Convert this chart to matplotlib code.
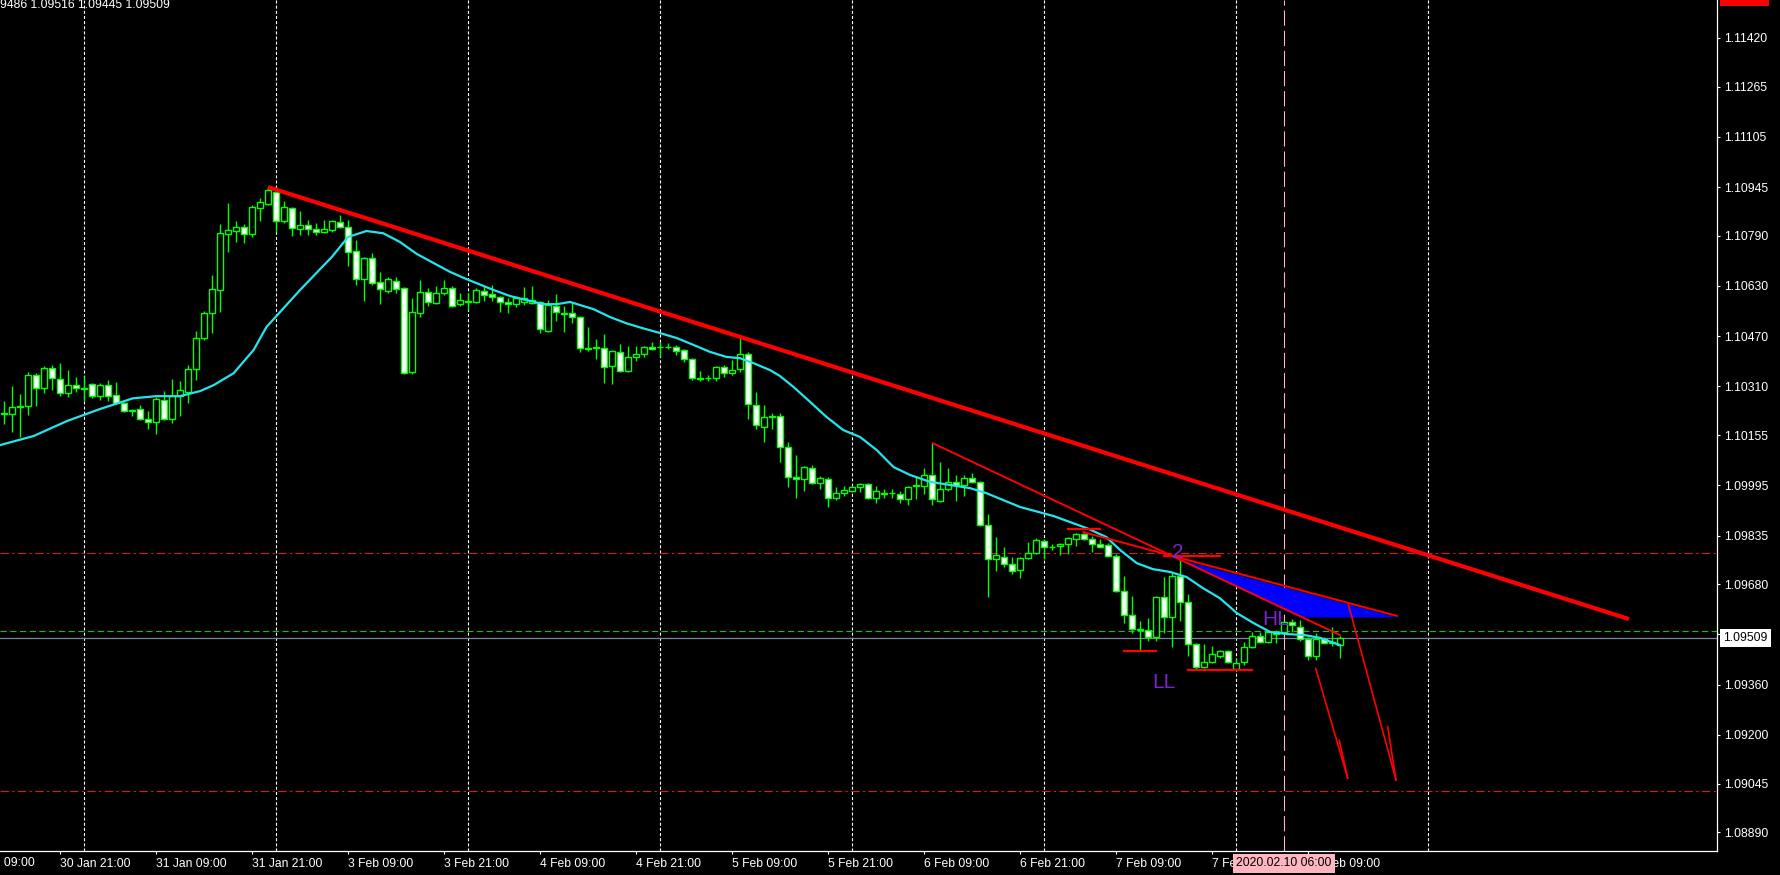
import matplotlib
matplotlib.use("Agg")
import matplotlib.pyplot as plt
from matplotlib.patches import Rectangle, Polygon

plt.rcParams['lines.scale_dashes'] = False

# H1 bars, bar 0 = 30 Jan 21:00, weekend skipped
FIRST_BAR = -7

OPEN = [1.10222, 1.10222, 1.10245, 1.10248, 1.10346, 1.10304, 1.10368,
        1.10333, 1.10288, 1.10314, 1.10304, 1.10317, 1.10279, 1.10314, 1.10282, 1.10257, 1.10235,
        1.10238, 1.10206, 1.10197, 1.10267, 1.10206, 1.10279, 1.10292, 1.10365, 1.10464, 1.10543,
        1.10617, 1.10795, 1.10805, 1.10818, 1.10795, 1.10878, 1.10891, 1.10930, 1.10837, 1.10878,
        1.10811, 1.10824, 1.10811, 1.10802, 1.10808, 1.10834, 1.10818, 1.10742, 1.10652, 1.10719,
        1.10643, 1.10614, 1.10646, 1.10623, 1.10356, 1.10543, 1.10611, 1.10575, 1.10607, 1.10623,
        1.10572, 1.10579, 1.10579, 1.10614, 1.10604, 1.10595, 1.10579, 1.10572, 1.10579, 1.10575,
        1.10579, 1.10487, 1.10566, 1.10543, 1.10543, 1.10531, 1.10432, 1.10436, 1.10432, 1.10375,
        1.10420, 1.10359, 1.10404, 1.10413, 1.10436, 1.10436, 1.10436, 1.10436, 1.10426, 1.10397,
        1.10336, 1.10336, 1.10336, 1.10372, 1.10352, 1.10365, 1.10413, 1.10251, 1.10181, 1.10213,
        1.10216, 1.10117, 1.10022, 1.10015, 1.10049, 1.10002, 1.10015, 1.09954, 1.09970, 1.09977,
        1.09990, 1.09999, 1.09954, 1.09970, 1.09970, 1.09967, 1.09951, 1.09993, 1.09993, 1.10028,
        1.09945, 1.09983, 1.10006, 1.09996, 1.10018, 1.10006, 1.09868, 1.09760, 1.09767, 1.09744,
        1.09725, 1.09763, 1.09779, 1.09818, 1.09799, 1.09802, 1.09808, 1.09824, 1.09839, 1.09824,
        1.09808, 1.09805, 1.09770, 1.09658, 1.09582, 1.09534, 1.09534, 1.09512, 1.09639, 1.09576,
        1.09706, 1.09623, 1.09489, 1.09416, 1.09432, 1.09451, 1.09467, 1.09409, 1.09432, 1.09480,
        1.09515, 1.09496, 1.09528, 1.09528, 1.09560, 1.09544, 1.09505, 1.09451, 1.09505, 1.09496,
        1.09486]
HIGH = [1.10264, 1.10311, 1.10285, 1.10356, 1.10352, 1.10375, 1.10378,
        1.10384, 1.10362, 1.10340, 1.10343, 1.10320, 1.10320, 1.10330, 1.10324, 1.10260, 1.10238,
        1.10251, 1.10232, 1.10276, 1.10295, 1.10333, 1.10327, 1.10378, 1.10487, 1.10550, 1.10665,
        1.10827, 1.10894, 1.10837, 1.10827, 1.10888, 1.10910, 1.10945, 1.10936, 1.10901, 1.10882,
        1.10869, 1.10840, 1.10830, 1.10840, 1.10840, 1.10856, 1.10840, 1.10776, 1.10723, 1.10735,
        1.10675, 1.10659, 1.10659, 1.10627, 1.10591, 1.10649, 1.10623, 1.10630, 1.10649, 1.10630,
        1.10607, 1.10607, 1.10623, 1.10630, 1.10633, 1.10598, 1.10591, 1.10598, 1.10627, 1.10630,
        1.10582, 1.10585, 1.10604, 1.10566, 1.10575, 1.10534, 1.10499, 1.10461, 1.10477, 1.10426,
        1.10445, 1.10439, 1.10439, 1.10439, 1.10452, 1.10452, 1.10448, 1.10442, 1.10429, 1.10400,
        1.10359, 1.10346, 1.10375, 1.10378, 1.10394, 1.10464, 1.10420, 1.10292, 1.10251, 1.10225,
        1.10225, 1.10133, 1.10091, 1.10056, 1.10059, 1.10025, 1.10022, 1.09990, 1.09993, 1.09996,
        1.10002, 1.10002, 1.09993, 1.09983, 1.09983, 1.09977, 1.09993, 1.10022, 1.10049, 1.10129,
        1.10069, 1.10049, 1.10028, 1.10028, 1.10034, 1.10009, 1.09903, 1.09830, 1.09799, 1.09767,
        1.09767, 1.09815, 1.09826, 1.09824, 1.09808, 1.09811, 1.09830, 1.09842, 1.09842, 1.09833,
        1.09824, 1.09811, 1.09776, 1.09706, 1.09642, 1.09563, 1.09572, 1.09642, 1.09703, 1.09715,
        1.09757, 1.09648, 1.09492, 1.09489, 1.09483, 1.09470, 1.09470, 1.09441, 1.09496, 1.09528,
        1.09528, 1.09534, 1.09534, 1.09563, 1.09569, 1.09566, 1.09512, 1.09524, 1.09512, 1.09544,
        1.09516]
LOW = [1.10190, 1.10165, 1.10149, 1.10219, 1.10248, 1.10288, 1.10298,
       1.10279, 1.10276, 1.10292, 1.10264, 1.10272, 1.10267, 1.10264, 1.10254, 1.10229, 1.10216,
       1.10203, 1.10174, 1.10158, 1.10203, 1.10193, 1.10216, 1.10257, 1.10330, 1.10458, 1.10480,
       1.10547, 1.10739, 1.10770, 1.10766, 1.10786, 1.10837, 1.10888, 1.10802, 1.10830, 1.10789,
       1.10792, 1.10792, 1.10792, 1.10798, 1.10802, 1.10814, 1.10694, 1.10633, 1.10582, 1.10633,
       1.10572, 1.10607, 1.10607, 1.10349, 1.10349, 1.10531, 1.10566, 1.10572, 1.10601, 1.10563,
       1.10566, 1.10553, 1.10575, 1.10582, 1.10582, 1.10547, 1.10543, 1.10563, 1.10569, 1.10572,
       1.10480, 1.10484, 1.10518, 1.10484, 1.10511, 1.10420, 1.10423, 1.10397, 1.10320, 1.10317,
       1.10356, 1.10356, 1.10391, 1.10404, 1.10426, 1.10404, 1.10429, 1.10410, 1.10388, 1.10330,
       1.10327, 1.10327, 1.10327, 1.10340, 1.10346, 1.10356, 1.10206, 1.10174, 1.10133, 1.10174,
       1.10069, 1.09990, 1.09954, 1.09977, 1.09999, 1.09983, 1.09926, 1.09948, 1.09961, 1.09974,
       1.09974, 1.09951, 1.09938, 1.09954, 1.09954, 1.09938, 1.09932, 1.09951, 1.09967, 1.09932,
       1.09942, 1.09977, 1.09945, 1.09961, 1.10002, 1.09865, 1.09639, 1.09722, 1.09735, 1.09712,
       1.09699, 1.09760, 1.09776, 1.09760, 1.09789, 1.09773, 1.09776, 1.09802, 1.09821, 1.09783,
       1.09796, 1.09767, 1.09655, 1.09556, 1.09524, 1.09470, 1.09499, 1.09499, 1.09524, 1.09480,
       1.09563, 1.09451, 1.09406, 1.09413, 1.09429, 1.09444, 1.09429, 1.09406, 1.09422, 1.09477,
       1.09492, 1.09492, 1.09492, 1.09524, 1.09528, 1.09499, 1.09438, 1.09438, 1.09489, 1.09483,
       1.09445]
CLOSE = [1.10225, 1.10245, 1.10248, 1.10346, 1.10304, 1.10368, 1.10336,
         1.10288, 1.10314, 1.10304, 1.10301, 1.10279, 1.10314, 1.10279, 1.10257, 1.10232, 1.10233,
         1.10206, 1.10197, 1.10269, 1.10206, 1.10279, 1.10298, 1.10365, 1.10464, 1.10543, 1.10620,
         1.10798, 1.10808, 1.10818, 1.10795, 1.10882, 1.10898, 1.10936, 1.10837, 1.10882, 1.10814,
         1.10824, 1.10811, 1.10802, 1.10811, 1.10837, 1.10818, 1.10739, 1.10652, 1.10719, 1.10639,
         1.10620, 1.10652, 1.10620, 1.10352, 1.10547, 1.10611, 1.10579, 1.10607, 1.10623, 1.10566,
         1.10585, 1.10582, 1.10617, 1.10601, 1.10595, 1.10579, 1.10572, 1.10591, 1.10591, 1.10585,
         1.10492, 1.10569, 1.10547, 1.10540, 1.10531, 1.10432, 1.10429, 1.10433, 1.10372, 1.10423,
         1.10359, 1.10404, 1.10413, 1.10436, 1.10429, 1.10434, 1.10437, 1.10423, 1.10397, 1.10336,
         1.10335, 1.10337, 1.10372, 1.10352, 1.10362, 1.10413, 1.10254, 1.10187, 1.10213, 1.10215,
         1.10117, 1.10022, 1.10015, 1.10053, 1.10002, 1.10018, 1.09954, 1.09970, 1.09980, 1.09990,
         1.09999, 1.09954, 1.09977, 1.09968, 1.09972, 1.09951, 1.09990, 1.09995, 1.10028, 1.09951,
         1.09983, 1.10006, 1.09996, 1.10018, 1.10006, 1.09868, 1.09760, 1.09773, 1.09744, 1.09722,
         1.09763, 1.09779, 1.09821, 1.09799, 1.09797, 1.09808, 1.09827, 1.09839, 1.09824, 1.09808,
         1.09799, 1.09770, 1.09658, 1.09582, 1.09537, 1.09536, 1.09512, 1.09639, 1.09576, 1.09706,
         1.09623, 1.09489, 1.09416, 1.09432, 1.09457, 1.09467, 1.09432, 1.09429, 1.09480, 1.09515,
         1.09496, 1.09528, 1.09521, 1.09560, 1.09550, 1.09505, 1.09451, 1.09505, 1.09492, 1.09494,
         1.09509]

# moving average line
MA_X = [-7.5, -3.3, 0.9, 5, 9.1, 12, 15, 17.5, 19.2, 21.7, 24.2, 25.8, 30, 34, 36, 38.3, 40.4,
        42.5, 44.6, 46.7, 48.75, 50.8, 54.2, 56.25, 58.3, 60.4, 62.1, 63.75, 66.7, 68.75, 70.8,
        72.9, 75, 77.1, 79.2, 81.25, 83.3, 85, 86.7, 88.75, 90, 91.7, 93.75, 95.8, 97.9, 100,
        102.1, 104.2, 106.25, 108.75, 113.75, 115.8, 117.9, 120, 124.2, 128.4, 130.8, 132.5,
        134.6, 136.6, 138.75, 140.8, 142.9, 145, 147.1, 149.2, 151.25, 153.4, 155.5, 157.5, 160]
MA_Y = [1.10123, 1.10152, 1.10200, 1.10238, 1.10272, 1.10279, 1.10279, 1.10295, 1.10314, 1.10352,
        1.10426, 1.10499, 1.10617, 1.10723, 1.10786, 1.10805, 1.10798, 1.10770, 1.10732, 1.10703,
        1.10675, 1.10652, 1.10617, 1.10598, 1.10585, 1.10572, 1.10572, 1.10579, 1.10556, 1.10531,
        1.10511, 1.10495, 1.10480, 1.10464, 1.10442, 1.10420, 1.10404, 1.10400, 1.10384, 1.10362,
        1.10343, 1.10308, 1.10261, 1.10213, 1.10171, 1.10149, 1.10107, 1.10053, 1.10028, 1.10006,
        1.09986, 1.09970, 1.09948, 1.09926, 1.09897, 1.09858, 1.09830, 1.09789, 1.09747, 1.09728,
        1.09719, 1.09703, 1.09667, 1.09635, 1.09588, 1.09556, 1.09528, 1.09521, 1.09518, 1.09509,
        1.09486]

PRICE_TICKS = [1.11420, 1.11265, 1.11105, 1.10945, 1.10790, 1.10630, 1.10470, 1.10310, 1.10155,
               1.09995, 1.09835, 1.09680, 1.09520, 1.09360, 1.09200, 1.09045, 1.08890]
TIME_BARS = [-12, 0, 12, 24, 36, 48, 60, 72, 84, 96, 108, 120, 132, 144, 156]
TIME_LABELS = ["30 Jan 09:00", "30 Jan 21:00", "31 Jan 09:00", "31 Jan 21:00", "3 Feb 09:00",
               "3 Feb 21:00", "4 Feb 09:00", "4 Feb 21:00", "5 Feb 09:00", "5 Feb 21:00",
               "6 Feb 09:00", "6 Feb 21:00", "7 Feb 09:00", "7 Feb 21:00", "10 Feb 09:00"]
DAY_BARS = [3, 27, 51, 75, 99, 123, 147, 171]

BID = 1.09509
GREEN_LEVEL = 1.09531
RED_LEVELS = [1.09779, 1.09020]
CURSOR_BAR = 153
CURSOR_LABEL = "2020.02.10 06:00"
HEADER = "1.09486 1.09516 1.09445 1.09509"

# drawn objects
BIG_X = [26, 196.1]
BIG_Y = [1.10945, 1.09569]
LINE_A_X = [109.1, 160]
LINE_A_Y = [1.10129, 1.09518]
LINE_B_X = [127.9, 167.1]
LINE_B_Y = [1.09846, 1.09579]
TRI_X = [140, 155, 167.1]
TRI_Y = [1.09757, 1.09574, 1.09574]
SEG_X0 = [126, 138, 133, 141]
SEG_X1 = [130, 145, 137, 149]
SEG_Y = [1.09856, 1.09770, 1.09468, 1.09406]
ARROW1_X = [156.96, 160.96, 159.9]
ARROW1_Y = [1.09412, 1.09062, 1.09183]
ARROW2_X = [161.04, 167, 165.96]
ARROW2_Y = [1.09616, 1.09056, 1.09226]
MARK_TEXT = ["2", "HL", "LL"]
MARK_X = [139.7, 151.9, 138]
MARK_Y = [1.09780, 1.09566, 1.09368]

LIME = '#00ff00'
FONT = 'Liberation Sans'
FS = 8.7

W, H = 1780, 875
fig = plt.figure(figsize=(W / 100, H / 100), dpi=100, facecolor='black')
ax = fig.add_axes([0, 24 / H, 1717 / W, 851 / H])
ax.set_facecolor('black')
ax.set_xlim(-7.5, 207.125)
ax.set_ylim(1.08830, 1.11541)

# day separators
for b in DAY_BARS:
    ax.axvline(b, color='white', lw=0.8, dashes=(2.2, 1.5), zorder=1)

# horizontal levels
for lv in RED_LEVELS:
    ax.axhline(lv, color='#e01818', lw=0.8, dashes=(6, 2.5, 1.5, 2.5), zorder=1)
ax.axhline(GREEN_LEVEL, color='#00cc00', lw=0.8, dashes=(4.5, 2.5), zorder=1)
ax.axhline(BID, color='#778899', lw=0.9, zorder=1)

# cursor line
ax.axvline(CURSOR_BAR, color='#ffb6c1', lw=0.8, dashes=(11, 3.5), zorder=2)

# candles
n = len(OPEN)
xs = list(range(FIRST_BAR, FIRST_BAR + n))
ax.vlines(xs, LOW, HIGH, color=LIME, lw=1.0, zorder=3)
for x, o, c in zip(xs, OPEN, CLOSE):
    fc = 'white' if c < o else 'black'
    ax.add_patch(Rectangle((x - 0.32, min(o, c)), 0.64, abs(c - o),
                           fc=fc, ec=LIME, lw=1.0, zorder=4))

# moving average
ax.plot(MA_X, MA_Y, color='#22e5ee', lw=1.6, zorder=5)

# blue triangle
ax.add_patch(Polygon(list(zip(TRI_X, TRI_Y)), closed=True, fc='#0000ff', ec='none', zorder=5))

# trend lines
ax.plot(BIG_X, BIG_Y, color='#ff0000', lw=3.0, zorder=6, solid_capstyle='butt')
ax.plot(LINE_A_X, LINE_A_Y, color='#ff0000', lw=1.4, zorder=6)
ax.plot(LINE_B_X, LINE_B_Y, color='#ff0000', lw=1.4, zorder=6)
for x0, x1, y in zip(SEG_X0, SEG_X1, SEG_Y):
    ax.plot([x0, x1], [y, y], color='#ff0000', lw=1.6, zorder=6)
for ax_, ay_ in [(ARROW1_X, ARROW1_Y), (ARROW2_X, ARROW2_Y)]:
    ax.plot(ax_[:2], ay_[:2], color='#ff0000', lw=1.2, zorder=6)
    ax.plot([ax_[2], ax_[1]], [ay_[2], ay_[1]], color='#ff0000', lw=1.2, zorder=6)

for t, x, y in zip(MARK_TEXT, MARK_X, MARK_Y):
    ax.text(x, y, t, color='#7f22d0', fontsize=15, family=FONT, ha='center', va='center', zorder=7)

# axes styling
for s in ['left', 'top']:
    ax.spines[s].set_visible(False)
for s in ['right', 'bottom']:
    ax.spines[s].set_color('white')
    ax.spines[s].set_linewidth(0.9)

ax.yaxis.tick_right()
ax.set_yticks(PRICE_TICKS)
ax.set_yticklabels(["%.5f" % p for p in PRICE_TICKS])
ax.tick_params(axis='y', colors='white', length=2.2, width=0.8, pad=2.8, labelsize=FS)

vis = [(b, l) for b, l in zip(TIME_BARS, TIME_LABELS) if b >= -7.5]
ax.set_xticks([b for b, l in vis])
ax.set_xticklabels([l for b, l in vis])
ax.tick_params(axis='x', colors='white', length=2.2, width=0.8, pad=2.5, labelsize=FS)
for lab in ax.get_xticklabels() + ax.get_yticklabels():
    lab.set_family(FONT)
for lab in ax.get_xticklabels():
    lab.set_ha('left')

# first label, cut by the left edge
xtr = ax.get_xaxis_transform()
ax.text(TIME_BARS[0], -0.0072, TIME_LABELS[0], transform=xtr, color='white', fontsize=FS,
        family=FONT, ha='left', va='top', clip_on=False)

# cursor time label
ax.text(CURSOR_BAR, -0.0072, CURSOR_LABEL, transform=xtr, color='black', fontsize=FS,
        family=FONT, ha='center', va='top', clip_on=False, zorder=10,
        bbox=dict(boxstyle='square,pad=0.3', fc='#ffb6c1', ec='none'))

# bid price label
ax.annotate("%.5f" % BID, xy=(1, BID), xycoords=('axes fraction', 'data'),
            xytext=(4.5, 0), textcoords='offset points', color='black', fontsize=FS,
            family=FONT, ha='left', va='center', zorder=10, annotation_clip=False,
            bbox=dict(boxstyle='square,pad=0.25', fc='white', ec='none'))

# red price label cut at the top
ax.annotate("1.11551", xy=(1, 1.11551), xycoords=('axes fraction', 'data'),
            xytext=(4.5, 0), textcoords='offset points', color='black', fontsize=FS,
            family=FONT, ha='left', va='center', zorder=10, annotation_clip=False,
            bbox=dict(boxstyle='square,pad=0.25', fc='#ff0000', ec='none'))

fig.text(-17 / W, 1 + 1 / H, HEADER, color='white', fontsize=FS, family=FONT,
         ha='left', va='top')

fig.savefig('out.png', dpi=100, facecolor='black')
